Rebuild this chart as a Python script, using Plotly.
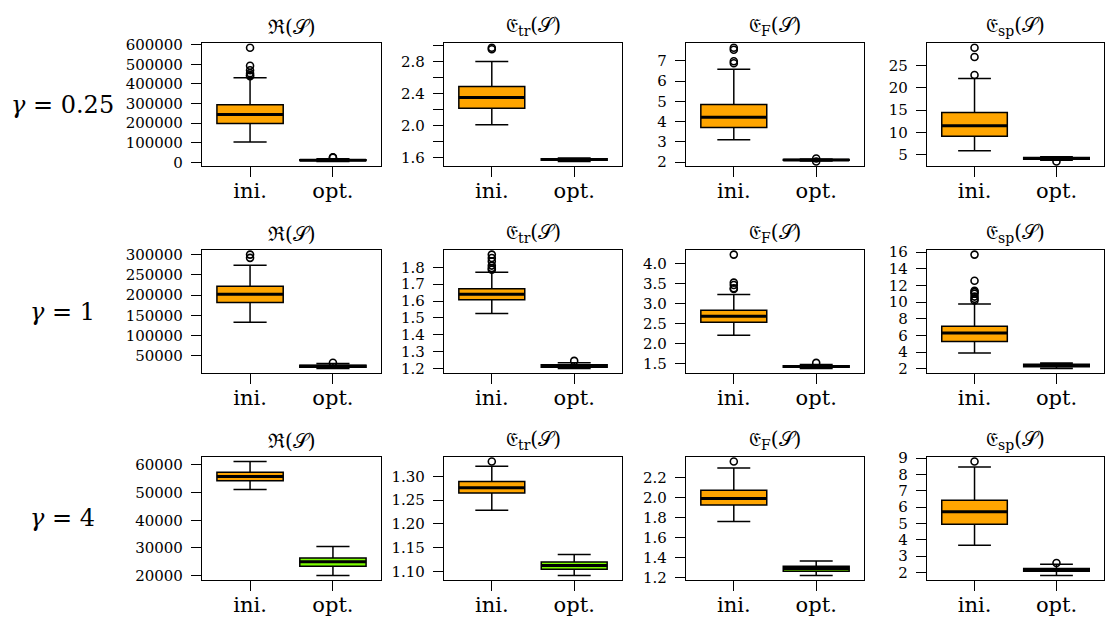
import plotly.graph_objects as go

GAMMAS = ["0.25", "1", "4"]
METRICS = ["ℜ(𝒮)", "𝔈<sub>tr</sub>(𝒮)", "𝔈<sub>F</sub>(𝒮)", "𝔈<sub>sp</sub>(𝒮)"]
CATEGORIES = ["ini.", "opt."]

# box statistics, rows = gamma, columns = metric
INI_LOW = [[104000, 2.01, 3.11, 5.9], [133000, 1.526, 2.21, 3.9], [51100, 1.229, 1.758, 3.67]]
INI_Q1 = [[198000, 2.215, 3.71, 9.16], [182000, 1.607, 2.54, 5.29], [54300, 1.265, 1.924, 4.95]]
INI_MED = [[244000, 2.35, 4.22, 11.5], [202000, 1.64, 2.69, 6.3], [55800, 1.276, 1.99, 5.71]]
INI_Q3 = [[294000, 2.486, 4.85, 14.5], [222000, 1.673, 2.835, 7.1], [57300, 1.289, 2.072, 6.42]]
INI_HIGH = [[432000, 2.797, 6.58, 22.1], [274000, 1.771, 3.23, 9.77], [61200, 1.321, 2.294, 8.45]]
INI_OUT = [
    [[585000, 493000, 470000, 455000, 445000, 440000], [2.95, 2.97], [7.65, 7.55, 6.98, 6.88], [29.0, 26.9, 22.9]],
    [[300000, 292000], [1.875, 1.855, 1.835, 1.81, 1.795, 1.785], [4.23, 3.53, 3.47, 3.39, 3.37],
     [15.7, 12.56, 11.37, 11.2, 11.0, 10.67, 10.4, 10.2]],
    [[], [1.331], [2.359], [8.79]],
]
OPT_LOW = [[4000, 1.55, 2.06, 3.8], [19000, 1.20, 1.38, 2.05], [20100, 1.092, 1.219, 1.82]]
OPT_Q1 = [[9000, 1.565, 2.09, 4.0], [22000, 1.207, 1.41, 2.25], [23400, 1.105, 1.261, 2.08]]
OPT_MED = [[11000, 1.575, 2.11, 4.2], [24500, 1.215, 1.43, 2.4], [25000, 1.113, 1.288, 2.17]]
OPT_Q3 = [[13000, 1.585, 2.13, 4.4], [27000, 1.222, 1.45, 2.55], [26400, 1.120, 1.31, 2.25]]
OPT_HIGH = [[18000, 1.595, 2.16, 4.6], [31000, 1.234, 1.48, 2.7], [30500, 1.136, 1.362, 2.5]]
OPT_OUT = [
    [[24000, 26000], [], [2.03, 2.18], [3.5]],
    [[33000], [1.245], [1.52], []],
    [[], [], [], [2.58]],
]

TICKVALS = [
    [[0, 100000, 200000, 300000, 400000, 500000, 600000], [1.6, 1.8, 2.0, 2.2, 2.4, 2.6, 2.8, 3.0],
     [2, 3, 4, 5, 6, 7], [5, 10, 15, 20, 25]],
    [[50000, 100000, 150000, 200000, 250000, 300000], [1.2, 1.3, 1.4, 1.5, 1.6, 1.7, 1.8],
     [1.5, 2.0, 2.5, 3.0, 3.5, 4.0], [2, 4, 6, 8, 10, 12, 14, 16]],
    [[20000, 30000, 40000, 50000, 60000], [1.10, 1.15, 1.20, 1.25, 1.30],
     [1.2, 1.4, 1.6, 1.8, 2.0, 2.2], [2, 3, 4, 5, 6, 7, 8, 9]],
]
TICKTEXT = [
    [["0", "100000", "200000", "300000", "400000", "500000", "600000"],
     ["1.6", " ", "2.0", " ", "2.4", " ", "2.8", " "],
     ["2", "3", "4", "5", "6", "7"], ["5", "10", "15", "20", "25"]],
    [["50000", "100000", "150000", "200000", "250000", "300000"],
     ["1.2", "1.3", "1.4", "1.5", "1.6", "1.7", "1.8"],
     ["1.5", "2.0", "2.5", "3.0", "3.5", "4.0"], ["2", "4", "6", "8", "10", "12", "14", "16"]],
    [["20000", "30000", "40000", "50000", "60000"], ["1.10", "1.15", "1.20", "1.25", "1.30"],
     ["1.2", "1.4", "1.6", "1.8", "2.0", "2.2"], ["2", "3", "4", "5", "6", "7", "8", "9"]],
]

INI_COLOR = "#FFA500"
OPT_COLOR = "#7CFC00"
FONT = "DejaVu Serif"

W, H = 1105, 626
COL_X = [(202, 381), (444, 622), (686, 864), (927, 1104)]
ROW_Y = [(36, 162), (248, 374), (460, 586)]
BOX_W = 0.8

fig = go.Figure()
annotations = []

for r in range(3):
    for c in range(4):
        idx = r * 4 + c + 1
        xa = "x" if idx == 1 else f"x{idx}"
        ya = "y" if idx == 1 else f"y{idx}"
        stats = [
            (1, INI_LOW, INI_Q1, INI_MED, INI_Q3, INI_HIGH, INI_OUT, INI_COLOR),
            (2, OPT_LOW, OPT_Q1, OPT_MED, OPT_Q3, OPT_HIGH, OPT_OUT, OPT_COLOR),
        ]
        allv = []
        for pos, lo, q1, md, q3, hi, out, col in stats:
            fig.add_trace(go.Box(
                x=[pos], q1=[q1[r][c]], median=[md[r][c]], q3=[q3[r][c]],
                lowerfence=[lo[r][c]], upperfence=[hi[r][c]],
                width=BOX_W, whiskerwidth=0.5, fillcolor=col,
                line=dict(color="black", width=1.5), boxpoints=False,
                xaxis=xa, yaxis=ya, showlegend=False, hoverinfo="skip",
            ))
            fig.add_trace(go.Scatter(
                x=[pos - BOX_W / 2, pos + BOX_W / 2], y=[md[r][c], md[r][c]],
                mode="lines", line=dict(color="black", width=3),
                xaxis=xa, yaxis=ya, showlegend=False, hoverinfo="skip",
            ))
            if out[r][c]:
                fig.add_trace(go.Scatter(
                    x=[pos] * len(out[r][c]), y=out[r][c], mode="markers",
                    marker=dict(symbol="circle-open", size=7, color="black",
                                line=dict(width=1.6, color="black")),
                    xaxis=xa, yaxis=ya, showlegend=False, hoverinfo="skip",
                ))
            allv += [lo[r][c], hi[r][c]] + list(out[r][c])
        vmin, vmax = min(allv), max(allv)
        pad = (vmax - vmin) * 0.04
        x0, x1 = COL_X[c]
        y0, y1 = ROW_Y[r]
        xdom = [x0 / W, x1 / W]
        ydom = [1 - y1 / H, 1 - y0 / H]
        key = "" if idx == 1 else str(idx)
        fig.layout[f"xaxis{key}"] = dict(
            domain=xdom, anchor=ya, range=[0.42, 2.58],
            tickmode="array", tickvals=[1, 2], ticktext=CATEGORIES,
            ticks="outside", ticklen=10, tickwidth=1, tickcolor="black",
            ticklabelstandoff=-4,
            showline=True, mirror=True, linecolor="black", linewidth=1.2,
            showgrid=False, zeroline=False, fixedrange=True,
            tickfont=dict(family=FONT, size=21, color="black"),
        )
        fig.layout[f"yaxis{key}"] = dict(
            domain=ydom, anchor=xa, range=[vmin - pad, vmax + pad],
            tickmode="array", tickvals=TICKVALS[r][c], ticktext=TICKTEXT[r][c],
            ticks="outside", ticklen=10, tickwidth=1, tickcolor="black",
            ticklabelstandoff=5,
            showline=True, mirror=True, linecolor="black", linewidth=1.2,
            showgrid=False, zeroline=False, fixedrange=True,
            tickfont=dict(family=FONT, size=15, color="black"),
        )
        annotations.append(dict(
            text=METRICS[c], xref="paper", yref="paper",
            x=(xdom[0] + xdom[1]) / 2, y=ydom[1], xanchor="center", yanchor="bottom",
            yshift=2, showarrow=False, font=dict(family=FONT, size=20, color="black"),
        ))
    annotations.append(dict(
        text=f"<i>γ</i> = {GAMMAS[r]}", xref="paper", yref="paper",
        x=62 / W, y=1 - (ROW_Y[r][0] + ROW_Y[r][1]) / 2 / H,
        xanchor="center", yanchor="middle", showarrow=False,
        font=dict(family=FONT, size=24, color="black"),
    ))

fig.update_layout(
    width=W, height=H, margin=dict(l=0, r=0, t=0, b=0),
    paper_bgcolor="white", plot_bgcolor="white",
    font=dict(family=FONT, color="black"),
    annotations=annotations, showlegend=False,
)

fig.write_html("out.html")
